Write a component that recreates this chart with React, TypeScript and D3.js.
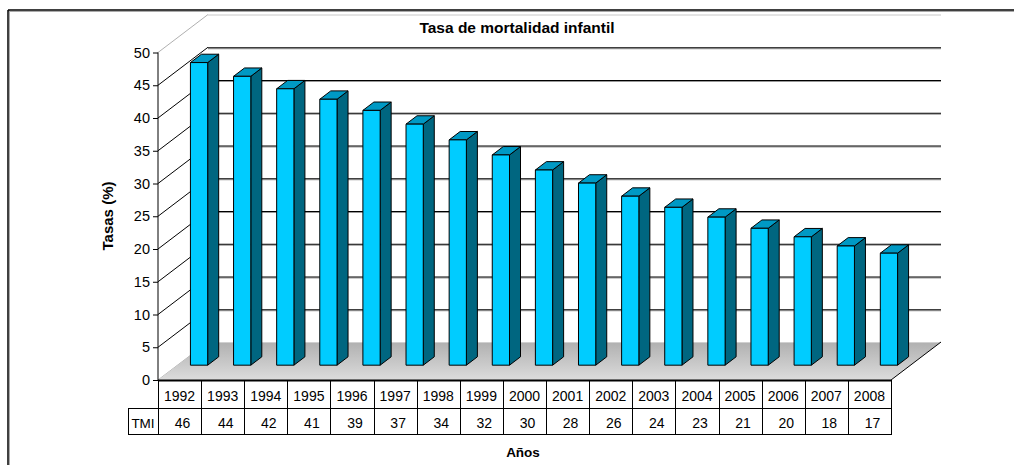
import * as d3 from "d3";

const years = ["1992", "1993", "1994", "1995", "1996", "1997", "1998", "1999", "2000",
  "2001", "2002", "2003", "2004", "2005", "2006", "2007", "2008"];
// tasa de mortalidad infantil (bar heights)
const tmi = [46.2, 44.1, 42.2, 40.6, 38.9, 36.8, 34.4, 32.1, 29.8, 27.8, 25.8, 24.1, 22.6, 20.9, 19.6, 18.2, 17.1];
const yTicks = [0, 5, 10, 15, 20, 25, 30, 35, 40, 45, 50];

const title = "Tasa de mortalidad infantil";
const yTitle = "Tasas (%)";
const xTitle = "Años";
const rowLabel = "TMI";

const W = 1014, H = 465;
const font = "'Liberation Sans', Arial, sans-serif";
const DX = 50, DY = 38; // depth of the 3d box
const barF0 = 0.39, barFd = 0.22; // bar position / thickness in depth

export default function App() {
  const x = d3.scaleBand<string>().domain(years).range([158, 891]);
  const y = d3.scaleLinear().domain([0, 50]).range([380, 52.5]);
  const bw = x.bandwidth();
  const barW = bw * 0.4;
  const bdx = DX * barFd, bdy = DY * barFd;
  const rowTop = y(0), row1 = 408, row2 = 434;

  const pts = (p: [number, number][]) => p.map((d) => d.join(",")).join(" ");

  return (
    <svg width={W} height={H} style={{ position: "absolute", left: 0, top: 0, fontFamily: font }}>
      <defs>
        <linearGradient id="floor" x1="0" x2="0" y1="0" y2="1">
          <stop offset="0%" stopColor="#b0b0b0" />
          <stop offset="100%" stopColor="#dcdcdc" />
        </linearGradient>
      </defs>
      <rect width={W} height={H} fill="#fff" />
      {/* outer frame */}
      <line x1={8} x2={W} y1={11.5} y2={11.5} stroke="#aaa" strokeWidth={1} />
      <line x1={9.5} x2={9.5} y1={10} y2={H} stroke="#aaa" strokeWidth={1} />
      <line x1={8} x2={W} y1={10} y2={10} stroke="#000" strokeWidth={1.5} />
      <line x1={8} x2={8} y1={10} y2={H} stroke="#000" strokeWidth={1.5} />

      <text x={517} y={33} textAnchor="middle" fontWeight="bold" fontSize={15.5}>{title}</text>

      {/* back wall gridlines + side wall diagonals */}
      {yTicks.map((v) => {
        const yy = y(v);
        const light = v === 0 || v === 50;
        return (
          <g key={v}>
            {v > 0 && !light && (
              <line x1={x.range()[0] + DX} x2={x.range()[1] + DX} y1={yy - DY + 1.5} y2={yy - DY + 1.5} stroke="#999" />
            )}
            {v > 0 && (
              <line x1={x.range()[0] + DX} x2={x.range()[1] + DX} y1={yy - DY + 0.5} y2={yy - DY + 0.5}
                stroke={light ? "#c8c8c8" : "#000"} />
            )}
            <line x1={158} y1={yy} x2={158 + DX} y2={yy - DY} stroke={light ? "#b0b0b0" : "#000"} />
            <line x1={153} x2={158} y1={yy + 0.5} y2={yy + 0.5} stroke="#000" />
            <text x={150} y={yy + 5} textAnchor="end" fontSize={14.5}>{v}</text>
          </g>
        );
      })}

      {/* floor */}
      <polygon
        points={pts([[158, rowTop], [158 + DX, rowTop - DY], [891 + DX, rowTop - DY], [891, rowTop]])}
        fill="url(#floor)" stroke="none" />
      <line x1={158 + DX} x2={891 + DX} y1={rowTop - DY + 0.5} y2={rowTop - DY + 0.5} stroke="#d0d0d0" />
      <line x1={891} y1={rowTop} x2={891 + DX} y2={rowTop - DY} stroke="#000" />
      <line x1={158} x2={158} y1={y(50)} y2={rowTop} stroke="#000" />

      {/* bars */}
      {years.map((yr, i) => {
        const x0 = (x(yr) as number) + (bw - barW) / 2 + DX * barF0;
        const x1 = x0 + barW;
        const yb = rowTop - DY * barF0;
        const yt = y(tmi[i]) - DY * barF0;
        return (
          <g key={yr} stroke="#000" strokeWidth={1} strokeLinejoin="round">
            <polygon points={pts([[x1, yb], [x1 + bdx, yb - bdy], [x1 + bdx, yt - bdy], [x1, yt]])} fill="#006680" />
            <polygon points={pts([[x0, yt], [x0 + bdx, yt - bdy], [x1 + bdx, yt - bdy], [x1, yt]])} fill="#0099c4" />
            <rect x={x0} y={yt} width={barW} height={yb - yt} fill="#00ccff" />
          </g>
        );
      })}

      {/* data table */}
      <g stroke="#000" fill="none">
        <line x1={158} x2={891} y1={rowTop + 0.5} y2={rowTop + 0.5} strokeWidth={2} />
        <line x1={128} x2={891} y1={row1 + 0.5} y2={row1 + 0.5} />
        <line x1={128} x2={891} y1={row2 + 0.5} y2={row2 + 0.5} />
        <line x1={128.5} x2={128.5} y1={row1} y2={row2 + 1} />
        {[...years.map((yr) => x(yr) as number), 891].map((xx, i) => (
          <line key={i} x1={Math.round(xx) + 0.5} x2={Math.round(xx) + 0.5} y1={rowTop} y2={row2 + 1} />
        ))}
      </g>
      <text x={143} y={428} textAnchor="middle" fontSize={13.5}>{rowLabel}</text>
      {years.map((yr, i) => (
        <g key={yr} fontSize={14} textAnchor="middle">
          <text x={(x(yr) as number) + bw / 2} y={401}>{yr}</text>
          <text x={(x(yr) as number) + bw / 2 + 3} y={428}>{d3.format(".0f")(tmi[i])}</text>
        </g>
      ))}

      <text x={523} y={457} textAnchor="middle" fontWeight="bold" fontSize={13.5}>{xTitle}</text>
      <text transform={`translate(113,216) rotate(-90)`} textAnchor="middle" fontWeight="bold" fontSize={15}>{yTitle}</text>
    </svg>
  );
}
